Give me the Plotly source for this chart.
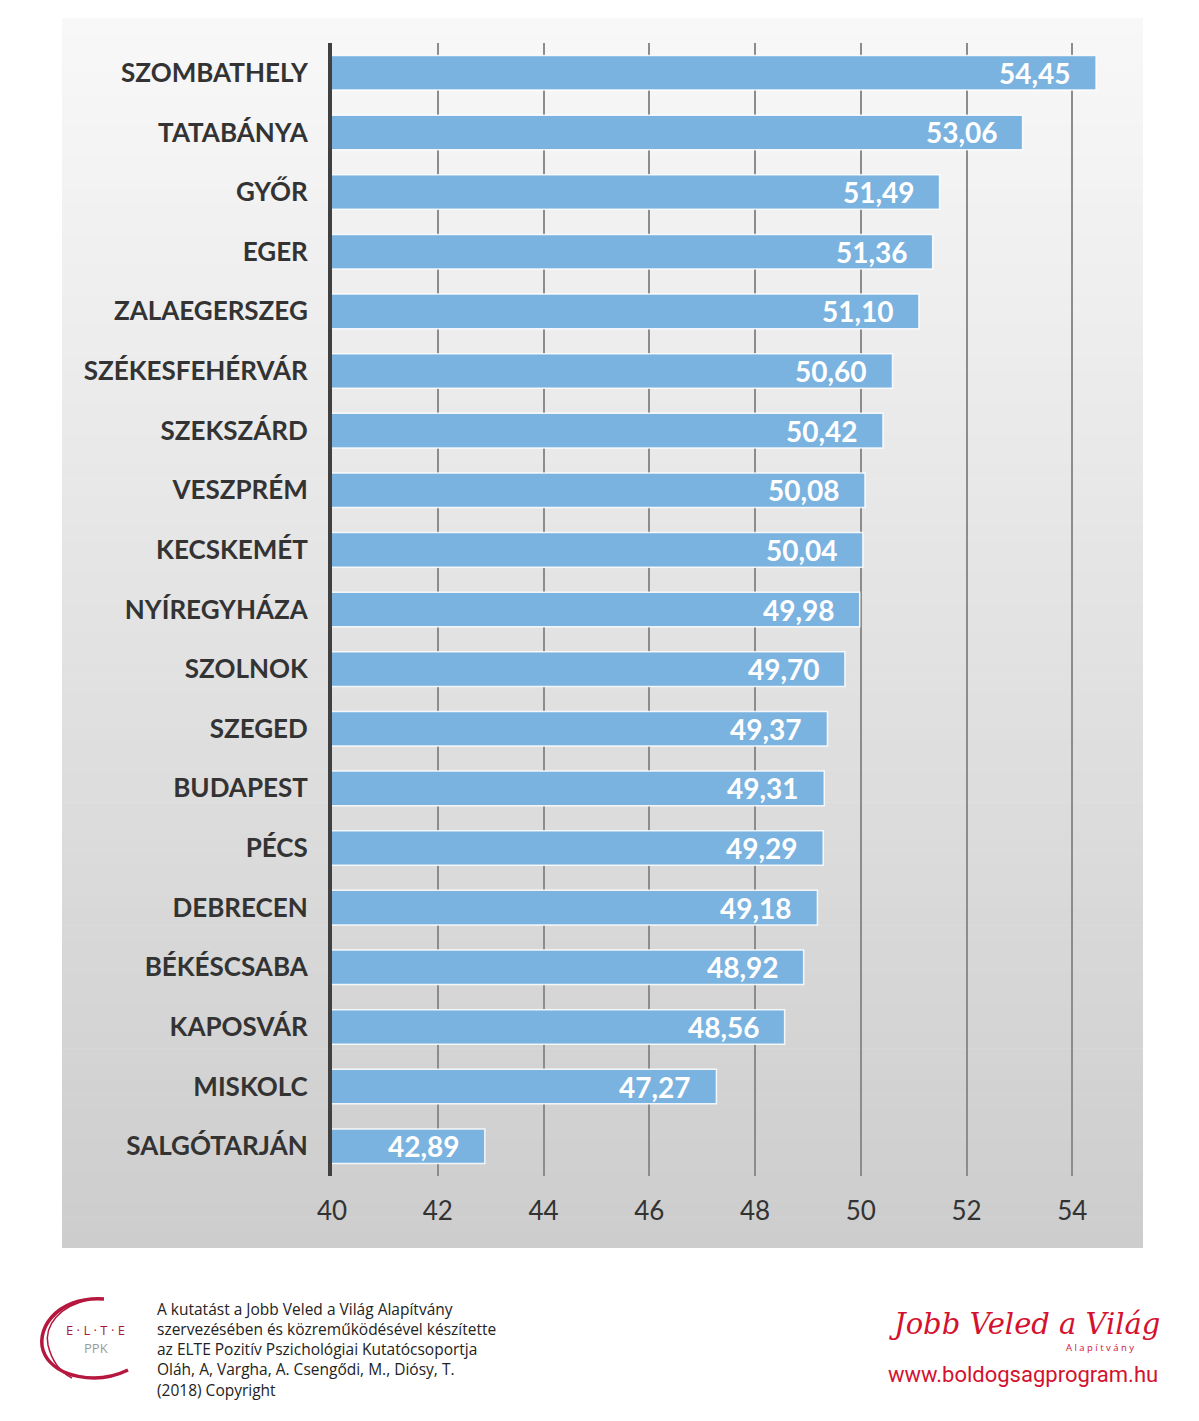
import plotly.graph_objects as go

cities = ["SZOMBATHELY", "TATABÁNYA", "GYŐR", "EGER", "ZALAEGERSZEG", "SZÉKESFEHÉRVÁR",
          "SZEKSZÁRD", "VESZPRÉM", "KECSKEMÉT", "NYÍREGYHÁZA", "SZOLNOK", "SZEGED",
          "BUDAPEST", "PÉCS", "DEBRECEN", "BÉKÉSCSABA", "KAPOSVÁR", "MISKOLC", "SALGÓTARJÁN"]
values = [54.45, 53.06, 51.49, 51.36, 51.10, 50.60, 50.42, 50.08, 50.04, 49.98,
          49.70, 49.37, 49.31, 49.29, 49.18, 48.92, 48.56, 47.27, 42.89]
labels = [f"{v:.2f}".replace(".", ",") for v in values]
x_ticks = [40, 42, 44, 46, 48, 50, 52, 54]

# page body has an 8px margin
OFF = 8
W, H = 1199 - OFF, 1421 - OFF
L, R, T, B = 332, 1141, 43, 1176


def px(x):
    return (x - L) / (R - L)


def py(y):
    return (B - y) / (B - T)


fig = go.Figure(go.Bar(
    y=cities, x=values, orientation="h", base=0,
    marker=dict(color="#7BB3E0", line=dict(color="rgba(255,255,255,0.85)", width=1.5)),
    width=0.58, hoverinfo="skip",
))

annotations = []
for c, v, t in zip(cities, values, labels):
    annotations.append(dict(x=v, y=c, xref="x", yref="y", text=t, showarrow=False,
                            xanchor="right", yanchor="middle", xshift=-23, yshift=0,
                            font=dict(family="Lato", size=28, color="white", weight="bold")))

shapes = []
# gradient panel background
x0, x1, y0, y1 = 62, 1143, 18, 1248
n = 80
c_top, c_bot = (248, 248, 248), (205, 205, 205)
for i in range(n):
    tt = i / (n - 1)
    col = tuple(round(a + (b - a) * tt) for a, b in zip(c_top, c_bot))
    ya = y0 + (y1 - y0) * i / n
    yb = y0 + (y1 - y0) * (i + 1) / n + 0.5
    shapes.append(dict(type="rect", xref="paper", yref="paper", layer="below",
                       x0=px(x0), x1=px(x1), y0=py(min(yb, y1)), y1=py(ya),
                       fillcolor=f"rgb{col}", line=dict(width=0)))

# ELTE logo swoosh
p1 = (f"M {px(104)},{py(1299)} C {px(55)},{py(1296)} {px(33)},{py(1332)} {px(45)},{py(1355)} "
      f"C {px(56)},{py(1376)} {px(95)},{py(1386)} {px(128)},{py(1370)}")
shapes.append(dict(type="path", xref="paper", yref="paper", path=p1,
                   line=dict(color="#B5173E", width=3.5)))
p2 = (f"M {px(88)},{py(1300)} C {px(60)},{py(1306)} {px(44)},{py(1325)} {px(48)},{py(1345)} "
      f"C {px(52)},{py(1362)} {px(60)},{py(1372)} {px(72)},{py(1378)}")
shapes.append(dict(type="path", xref="paper", yref="paper", path=p2,
                   line=dict(color="#B5173E", width=1.5)))

annotations.append(dict(xref="paper", yref="paper", x=px(95), y=py(1330), text="E · L · T · E",
                        showarrow=False, xanchor="center", yanchor="middle",
                        font=dict(family="Open Sans", size=13, color="#A51C3A")))
annotations.append(dict(xref="paper", yref="paper", x=px(96), y=py(1348), text="PPK",
                        showarrow=False, xanchor="center", yanchor="middle",
                        font=dict(family="Open Sans", size=13, color="#9a9a9a")))
credit = ["A kutatást a Jobb Veled a Világ Alapítvány",
          "szervezésében és közreműködésével készítette",
          "az ELTE Pozitív Pszichológiai Kutatócsoportja",
          "Oláh, A, Vargha, A. Csengődi, M., Diósy, T.",
          "(2018) Copyright"]
annotations.append(dict(xref="paper", yref="paper", x=px(155), y=py(1349.5), text="<br>".join(credit),
                        showarrow=False, xanchor="left", yanchor="middle", align="left",
                        font=dict(family="Open Sans", size=15.5, color="#222222")))
annotations.append(dict(xref="paper", yref="paper", x=px(1024), y=py(1324), text="<i>Jobb Veled a Világ</i>",
                        showarrow=False, xanchor="center", yanchor="middle",
                        font=dict(family="DejaVu Serif", size=29, color="#D4112E")))
annotations.append(dict(xref="paper", yref="paper", x=px(1100), y=py(1347), text="A l a p í t v á n y",
                        showarrow=False, xanchor="center", yanchor="middle",
                        font=dict(family="Open Sans", size=9.5, color="#D4112E")))
annotations.append(dict(xref="paper", yref="paper", x=px(1023), y=py(1374), text="www.boldogsagprogram.hu",
                        showarrow=False, xanchor="center", yanchor="middle",
                        font=dict(family="Roboto", size=22, color="#D4112E")))

fig.update_layout(
    width=W, height=H,
    margin=dict(l=L - OFF, r=1199 - R, t=T - OFF, b=1421 - B, pad=0),
    paper_bgcolor="white", plot_bgcolor="rgba(0,0,0,0)",
    showlegend=False,
    shapes=shapes, annotations=annotations,
    xaxis=dict(range=[40, 55.3], tickvals=x_ticks, ticktext=[str(v) for v in x_ticks],
               showgrid=True, gridcolor="#8C8C8C", gridwidth=2, zeroline=False,
               showline=False, ticks="", ticklabelstandoff=17,
               tickfont=dict(family="Lato", size=26, color="#333333")),
    yaxis=dict(categoryorder="array", categoryarray=cities[::-1], autorange=False,
               range=[-0.5, 18.5], showgrid=False, zeroline=False,
               showline=True, linecolor="#404040", linewidth=4, ticks="",
               ticklabelstandoff=15,
               tickfont=dict(family="Lato", size=26, color="#333333", weight="bold")),
)

fig.write_html("out.html")
